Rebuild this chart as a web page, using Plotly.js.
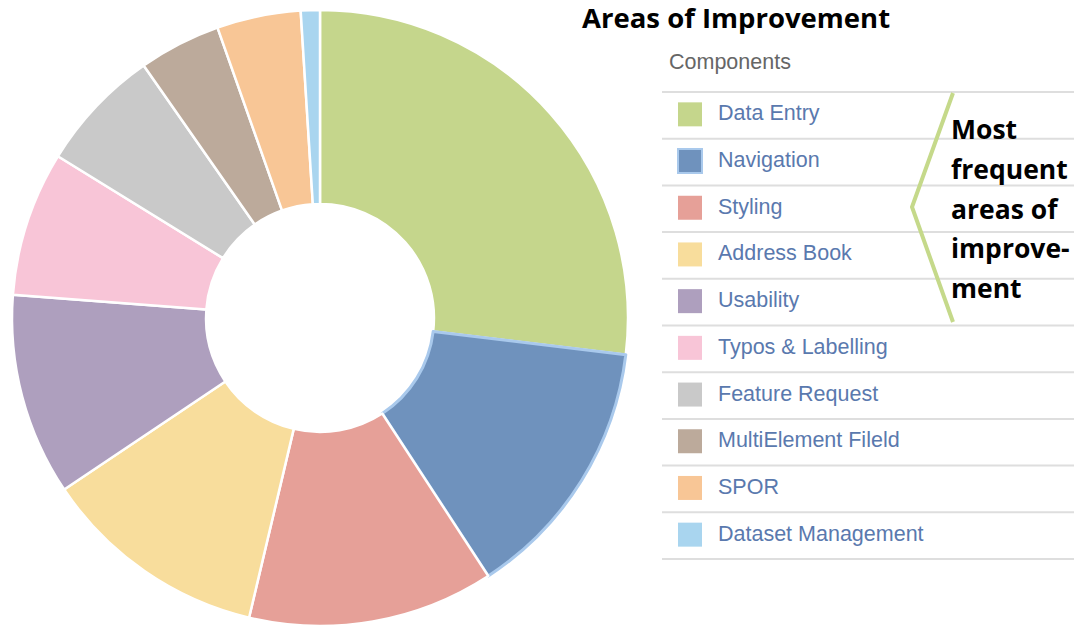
<!DOCTYPE html>
<html>
<head>
<meta charset="utf-8">
<script src="https://cdn.plot.ly/plotly-3.0.1.min.js"></script>
<style>html,body{margin:0;padding:0;background:#fff;}#chart{width:1077px;height:626px;}</style>
</head>
<body>
<div id="chart"></div>
<script>
const categories = ["Data Entry","Navigation","Styling","Address Book","Usability","Typos & Labelling","Feature Request","MultiElement Fileld","SPOR","Dataset Management"];
const shares = [26.9, 13.9, 12.9, 11.9, 10.6, 7.6, 6.5, 4.3, 4.4, 1.0];
const colors = ["#c5d68c","#6f92bd","#e6a098","#f8dd9c","#ae9fbe","#f8c5d7","#c9c9c9","#bcaa9b","#f8c696","#a9d5ef"];
const outlineColors = ["#ffffff","#a9c9ec","#ffffff","#ffffff","#ffffff","#ffffff","#ffffff","#ffffff","#ffffff","#ffffff"];
const titleText = "Areas of Improvement";
const legendTitle = "Components";
const noteLines = ["Most","frequent","areas of","improve-","ment"];

const W = 1077, H = 626;
const px = x => x / W;
const py = y => 1 - y / H;

const shapes = [];
const annotations = [];

// legend table rules
const rowTop = 92, rowH = 46.7;
for (let i = 0; i <= categories.length; i++) {
  const y = rowTop + i * rowH;
  shapes.push({type:"line", xref:"paper", yref:"paper", x0:px(662), x1:px(1074), y0:py(y), y1:py(y), line:{color:"#dedede", width:2}});
}
categories.forEach((c, i) => {
  const cy = rowTop + rowH * (i + 0.5);
  shapes.push({type:"rect", xref:"paper", yref:"paper", x0:px(678), x1:px(702), y0:py(cy-13), y1:py(cy+11),
    fillcolor: colors[i], line:{color: i===1 ? "#a9c9ec" : colors[i], width: i===1 ? 2 : 0}});
  annotations.push({xref:"paper", yref:"paper", x:px(716), y:py(cy-2), text:c, showarrow:false,
    xanchor:"left", yanchor:"middle", font:{family:"Liberation Sans, Arial, sans-serif", size:21.5, color:"#5a79ae"}});
});
annotations.push({xref:"paper", yref:"paper", x:px(667), y:py(62), text:legendTitle, showarrow:false,
  xanchor:"left", yanchor:"middle", font:{family:"Liberation Sans, Arial, sans-serif", size:21.5, color:"#666666"}});

// brace
shapes.push({type:"path", xref:"paper", yref:"paper",
  path:`M ${px(953)} ${py(93)} L ${px(912)} ${py(207)} L ${px(953)} ${py(322)}`,
  line:{color:"#c5d98a", width:4}});

noteLines.forEach((t, i) => {
  annotations.push({xref:"paper", yref:"paper", x:px(949), y:py(129 + i*39.8), text:"<b>"+t+"</b>", showarrow:false,
    xanchor:"left", yanchor:"middle", font:{family:"Open Sans, sans-serif", size:26.5, color:"#000000"}});
});

const data = [{
  type:"pie",
  labels: categories,
  values: shares,
  sort:false,
  direction:"clockwise",
  rotation:0,
  hole:0.37,
  textinfo:"none",
  hoverinfo:"label+percent",
  marker:{colors: colors, line:{color: outlineColors, width:[2.5,3,2.5,2.5,2.5,2.5,2.5,2.5,2.5,2.5]}},
  domain:{x:[px(12), px(628)], y:[0, 0.984]},
  showlegend:false
}];

const layout = {
  width:W, height:H,
  margin:{l:0,r:0,t:0,b:0},
  paper_bgcolor:"#ffffff",
  title:{text:"<b>"+titleText+"</b>", x:px(582), xanchor:"left", y:py(18), yanchor:"middle", xref:"paper", yref:"paper",
    font:{family:"Open Sans, sans-serif", size:27.5, color:"#000000"}},
  shapes: shapes,
  annotations: annotations,
  showlegend:false
};

Plotly.newPlot("chart", data, layout, {displayModeBar:false, staticPlot:true});
</script>
</body>
</html>
